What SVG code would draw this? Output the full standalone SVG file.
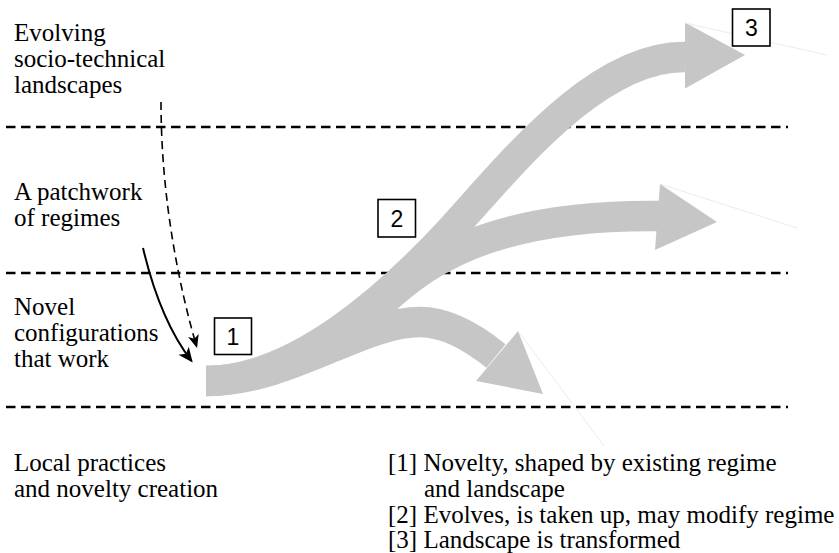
<svg xmlns="http://www.w3.org/2000/svg" width="839" height="553" viewBox="0 0 839 553">
  <style>
    .lbl { font-family: "Liberation Serif", "Times New Roman", serif; font-size: 25px; fill: #000; }
    .num { font-family: "Liberation Sans", Arial, sans-serif; font-size: 23px; fill: #000; text-anchor: middle; }
    .box { fill: #fff; stroke: #000; stroke-width: 1.6; }
    .level { fill: none; stroke: #000; stroke-width: 2.5; stroke-dasharray: 9.5 5.5; }
    .flow { fill: none; stroke: #c6c6c6; stroke-width: 30.5; stroke-linecap: butt; }
    .head { fill: #c6c6c6; stroke: none; }
    .ghost { stroke: #ebebeb; stroke-width: 1; fill: none; }
    .link { fill: none; stroke: #000; stroke-width: 2; }
    .link-dash { fill: none; stroke: #000; stroke-width: 1.6; stroke-dasharray: 8 5; }
  </style>
  <defs>
    <marker id="tip-solid" markerUnits="userSpaceOnUse" markerWidth="18" markerHeight="14" refX="13" refY="6.5" orient="auto">
      <path d="M0,0 L15,6.5 L0,13 L4,6.5 z" fill="#000"/>
    </marker>
    <marker id="tip-dash" markerUnits="userSpaceOnUse" markerWidth="16" markerHeight="12" refX="11" refY="5.5" orient="auto">
      <path d="M0,0 L13,5.5 L0,11 L3.5,5.5 z" fill="#000"/>
    </marker>
  </defs>

  <rect width="839" height="553" fill="#fff"/>

  <!-- level boundaries -->
  <g id="levels">
    <line class="level" x1="6" y1="127" x2="788" y2="127"/>
    <line class="level" x1="6" y1="273" x2="788" y2="273"/>
    <line class="level" x1="6" y1="407" x2="788" y2="407"/>
  </g>

  <!-- level labels -->
  <g id="label-landscape">
    <text class="lbl" x="14" y="40.5">Evolving</text>
    <text class="lbl" x="14" y="66.5">socio-technical</text>
    <text class="lbl" x="14" y="92.5">landscapes</text>
  </g>
  <g id="label-regimes">
    <text class="lbl" x="14" y="199.5">A patchwork</text>
    <text class="lbl" x="14" y="225.5">of regimes</text>
  </g>
  <g id="label-niches">
    <text class="lbl" x="14" y="315">Novel</text>
    <text class="lbl" x="14" y="341">configurations</text>
    <text class="lbl" x="14" y="367">that work</text>
  </g>
  <g id="label-local">
    <text class="lbl" x="14" y="470.5">Local practices</text>
    <text class="lbl" x="14" y="496.5">and novelty creation</text>
  </g>

  <!-- broad grey development flows -->
  <g id="flow-landscape">
    <path class="flow" d="M206,381 C296,381 390,296 451,230 C508.5,167.4 595,56 685,57"/>
    <polygon class="head" points="685,22.5 745,55 685,88.5"/>
    <line class="ghost" x1="685" y1="23" x2="827" y2="55"/>
  </g>
  <g id="flow-regime">
    <path class="flow" d="M369,315.5 C420,262 490,214 660,216"/>
    <polygon class="head" points="660,184 717,222 655,250"/>
    <line class="ghost" x1="660" y1="184" x2="797" y2="228"/>
  </g>
  <g id="flow-niche">
    <path class="flow" d="M206,381 C290,381 360,322 420,322 C445,322 470,335 496,356"/>
    <polygon class="head" points="518,331 543,394 476,381"/>
    <line class="ghost" x1="518" y1="331" x2="604" y2="446"/>
  </g>

  <!-- numbered stage markers -->
  <g id="stage-1">
    <rect class="box" x="214.5" y="318" width="37" height="36.5"/>
    <text class="num" x="233" y="345">1</text>
  </g>
  <g id="stage-2">
    <rect class="box" x="378" y="199.5" width="37.5" height="37.5"/>
    <text class="num" x="396.8" y="226.5">2</text>
  </g>
  <g id="stage-3">
    <rect class="box" x="732.5" y="9" width="37.5" height="37"/>
    <text class="num" x="751.3" y="36">3</text>
  </g>

  <!-- influence arrows from higher levels -->
  <g id="connectors">
    <path class="link-dash" d="M161,102 C161,200 180,290 196.5,346" marker-end="url(#tip-dash)"/>
    <path class="link" d="M143,248 Q160,320 191.5,361" marker-end="url(#tip-solid)"/>
  </g>

  <!-- legend -->
  <g id="legend">
    <text class="lbl" x="388" y="470.5">[1] Novelty, shaped by existing regime</text>
    <text class="lbl" x="424" y="496.5">and landscape</text>
    <text class="lbl" x="388" y="522.5">[2] Evolves, is taken up, may modify regime</text>
    <text class="lbl" x="388" y="548">[3] Landscape is transformed</text>
  </g>
</svg>
